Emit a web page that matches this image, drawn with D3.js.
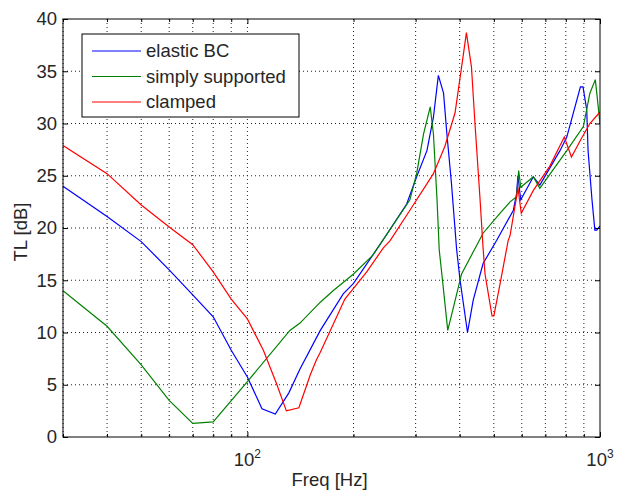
<!DOCTYPE html>
<html>
<head>
<meta charset="utf-8">
<script src="https://cdn.jsdelivr.net/npm/d3@7"></script>
<style>
  body { margin: 0; background: #fff; }
  text { font-family: Arial, "Liberation Sans", sans-serif; fill: #262626; }
</style>
</head>
<body>
<svg id="tlchart" width="618" height="492"></svg>
<script>
(function () {
    // values (Hz, dB)
    var freqElastic = [30, 40, 50, 60, 70, 80, 90, 100, 110, 120, 131, 141, 161, 187, 200, 243, 283, 302, 323, 337, 348, 360, 368, 379, 392, 401, 421, 437, 466, 509, 568, 580, 585, 596, 647, 675, 770, 805, 880, 895, 917, 925, 949, 967, 979, 1000];
    var tlElastic = [24.0, 21.1, 18.7, 16.0, 13.6, 11.5, 8.3, 5.75, 2.7, 2.2, 4.2, 6.5, 10.2, 13.7, 14.7, 18.9, 22.3, 24.9, 27.4, 30.6, 34.6, 32.9, 29.0, 24.3, 18.0, 15.0, 10.0, 13.1, 16.6, 18.8, 21.7, 23.3, 25.0, 22.7, 24.9, 24.1, 27.4, 28.7, 33.5, 33.5, 31.3, 27.4, 22.7, 19.8, 19.8, 20.2];

    var freqSimply = [30, 40, 50, 60, 70, 80, 100, 132, 141, 161, 175, 200, 227, 289, 302, 316, 330, 337, 345, 350, 356, 370, 384, 405, 466, 520, 556, 580, 588, 596, 647, 675, 805, 897, 936, 970, 1000];
    var tlSimply = [14.0, 10.6, 6.9, 3.5, 1.3, 1.45, 5.3, 10.2, 10.9, 12.9, 14.0, 15.6, 17.4, 22.7, 25.2, 29.0, 31.6, 29.0, 22.7, 17.9, 15.6, 10.2, 12.4, 15.6, 19.5, 21.4, 22.5, 23.0, 25.5, 23.9, 24.9, 23.8, 27.4, 29.7, 32.9, 34.2, 30.0];

    var freqClamped = [30, 40, 50, 60, 70, 80, 90, 100, 111, 121, 129, 140, 151, 157, 161, 189, 218, 243, 254, 289, 337, 363, 388, 405, 418, 432, 442, 457, 466, 472, 494, 500, 521, 549, 556, 580, 585, 598, 647, 720, 792, 830, 880, 936, 1000];
    var tlClamped = [27.9, 25.2, 22.2, 20.1, 18.4, 15.8, 13.2, 11.3, 8.3, 5.1, 2.5, 2.8, 6.0, 7.4, 8.1, 13.2, 15.8, 18.1, 18.8, 21.7, 25.2, 27.8, 31.0, 35.4, 38.7, 35.4, 30.0, 22.7, 18.1, 15.6, 11.6, 11.6, 14.7, 18.8, 19.3, 23.0, 23.9, 21.4, 23.6, 25.9, 28.7, 26.8, 28.4, 30.0, 31.1];

    var seriesNames = ["elastic BC", "simply supported", "clamped"];
    var seriesColors = ["#0000ff", "#008000", "#ff0000"];
    var yTicks = [0, 5, 10, 15, 20, 25, 30, 35, 40];
    var xMajor = [100, 1000];
    var xMinor = [30, 40, 50, 60, 70, 80, 90, 200, 300, 400, 500, 600, 700, 800, 900];

    var left = 63, top = 19, width = 537, height = 418;

    var x = d3.scaleLog().domain([30, 1000]).range([0, width]);
    var y = d3.scaleLinear().domain([0, 40]).range([height, 0]);

    var svg = d3.select("#tlchart");
    var g = svg.append("g").attr("transform", "translate(" + left + "," + top + ")");

    // dotted grid
    g.selectAll(".vgrid")
        .data(xMinor.concat(xMajor).filter(d => d < 1000))
        .join("line")
        .attr("x1", d => x(d)).attr("x2", d => x(d))
        .attr("y1", 0).attr("y2", height)
        .attr("stroke", "#222").attr("stroke-dasharray", "1,3");

    g.selectAll(".hgrid")
        .data(yTicks.filter(d => d > 0 && d < 40))
        .join("line")
        .attr("x1", 0).attr("x2", width)
        .attr("y1", d => y(d)).attr("y2", d => y(d))
        .attr("stroke", "#222").attr("stroke-dasharray", "1,3");

    // curves
    g.append("clipPath").attr("id", "plotclip")
        .append("rect").attr("width", width).attr("height", height);

    var line = d3.line()
        .x(d => x(d[0]))
        .y(d => y(d[1]));

    var curves = [
        d3.zip(freqElastic, tlElastic),
        d3.zip(freqSimply, tlSimply),
        d3.zip(freqClamped, tlClamped)
    ];

    g.append("g").attr("clip-path", "url(#plotclip)")
        .selectAll("path")
        .data(curves)
        .join("path")
        .attr("fill", "none")
        .attr("stroke", (d, i) => seriesColors[i])
        .attr("stroke-width", 1.2)
        .attr("d", line);

    // axes, ticks pointing inward
    var yAxis = g.append("g")
        .call(d3.axisLeft(y).tickValues(yTicks).tickSizeInner(-5).tickSizeOuter(0).tickPadding(6));
    yAxis.selectAll("text").style("font-size", "18.5px").attr("fill", "#262626");

    g.append("g").attr("transform", "translate(" + width + ",0)")
        .call(d3.axisRight(y).tickValues(yTicks).tickSizeInner(-5).tickSizeOuter(0).tickFormat(""));

    g.append("g").attr("transform", "translate(0," + height + ")")
        .call(d3.axisBottom(x).tickValues(xMajor).tickSizeInner(-5).tickSizeOuter(0).tickFormat(""));
    g.append("g").attr("transform", "translate(0," + height + ")")
        .call(d3.axisBottom(x).tickValues(xMinor).tickSizeInner(-3).tickSizeOuter(0).tickFormat(""));
    g.append("g")
        .call(d3.axisTop(x).tickValues(xMajor).tickSizeInner(-5).tickSizeOuter(0).tickFormat(""));
    g.append("g")
        .call(d3.axisTop(x).tickValues(xMinor).tickSizeInner(-3).tickSizeOuter(0).tickFormat(""));

    g.selectAll(".domain").remove();
    g.append("rect")
        .attr("width", width).attr("height", height)
        .attr("fill", "none").attr("stroke", "#000").attr("stroke-width", 1);

    // x tick labels as powers of ten
    var xl = g.selectAll(".xlab")
        .data(xMajor)
        .join("text")
        .attr("x", d => x(d))
        .attr("y", 466 - top)
        .attr("text-anchor", "middle")
        .style("font-size", "18.5px");
    xl.append("tspan").text("10");
    xl.append("tspan").attr("dy", -8).style("font-size", "12px")
        .text(d => Math.round(Math.log10(d)));

    // axis titles
    g.append("text")
        .attr("x", width / 2 - 2).attr("y", 486 - top)
        .attr("text-anchor", "middle")
        .style("font-size", "18.5px")
        .text("Freq [Hz]");

    g.append("text")
        .attr("transform", "translate(" + (27 - left) + "," + (232 - top) + ") rotate(-90)")
        .attr("text-anchor", "middle")
        .style("font-size", "18.5px")
        .text("TL [dB]");

    // legend
    var legend = svg.append("g").attr("transform", "translate(82,34)");
    legend.append("rect")
        .attr("width", 217).attr("height", 83)
        .attr("fill", "#fff").attr("stroke", "#000");

    var rows = legend.selectAll(".row")
        .data(seriesNames)
        .join("g")
        .attr("transform", (d, i) => "translate(0," + (17 + i * 25.5) + ")");
    rows.append("line")
        .attr("x1", 10).attr("x2", 59)
        .attr("stroke", (d, i) => seriesColors[i]).attr("stroke-width", 1.2);
    rows.append("text")
        .attr("x", 64).attr("dy", "0.35em")
        .style("font-size", "18.5px")
        .text(d => d);
})();
</script>
</body>
</html>
